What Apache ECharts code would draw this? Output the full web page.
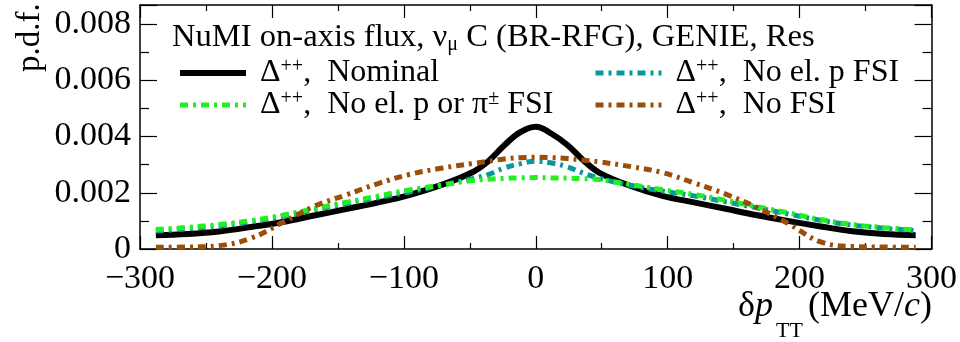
<!DOCTYPE html>
<html>
<head>
<meta charset="utf-8">
<script src="https://cdn.jsdelivr.net/npm/echarts@6/dist/echarts.min.js"></script>
<style>
html,body{margin:0;padding:0;background:#fff;}
#chart{width:960px;height:342px;}
</style>
</head>
<body>
<div id="chart"></div>
<script>
// δp_TT bin centres (MeV/c)
const xValues = [-288,-264,-240,-216,-192,-168,-144,-120,-96,-72,-48,-36,-24,-12,0,12,24,36,48,72,96,120,144,168,192,216,240,264,288];
// Δ++, Nominal
const nominal = [0.00049,0.00053,0.00062,0.00078,0.00096,0.00119,0.00142,0.00165,0.00192,0.00227,0.00273,0.00312,0.00368,0.00415,0.00435,0.00410,0.00370,0.00316,0.00272,0.00224,0.00189,0.00166,0.00143,0.00120,0.00099,0.00080,0.00063,0.00053,0.00049];
// Δ++, No el. p FSI
const noElP = [0.00064,0.00072,0.00082,0.00097,0.00116,0.00139,0.00161,0.00182,0.00203,0.00226,0.00250,0.00265,0.00288,0.00303,0.00312,0.00306,0.00292,0.00270,0.00252,0.00226,0.00206,0.00189,0.00168,0.00146,0.00124,0.00102,0.00085,0.00074,0.00065];
// Δ++, No el. p or π± FSI
const noElPPi = [0.00069,0.00077,0.00087,0.00101,0.00120,0.00143,0.00166,0.00188,0.00210,0.00227,0.00244,0.00248,0.00251,0.00253,0.00254,0.00253,0.00252,0.00250,0.00247,0.00229,0.00211,0.00194,0.00173,0.00150,0.00128,0.00105,0.00087,0.00076,0.00067];
// Δ++, No FSI
const noFSI = [0.00006,0.00007,0.00012,0.00038,0.00094,0.00152,0.00192,0.00232,0.00265,0.00287,0.00304,0.00312,0.00320,0.00325,0.00326,0.00325,0.00322,0.00316,0.00310,0.00293,0.00272,0.00235,0.00195,0.00147,0.00089,0.00025,0.00009,0.00007,0.00006];
const xTicks = [-300,-200,-100,0,100,200,300];
const yTicks = [0,0.002,0.004,0.006,0.008];
const legendLabels = {
  'Nominal':'{g| }{d|Δ}{s|++}{d|,  Nominal}',
  'No el. p FSI':'{g| }{d|Δ}{s|++}{d|,  No el. p FSI}',
  'No el. p or π± FSI':'{g| }{d|Δ}{s|++}{d|,  No el. p or π}{s|±}{d| FSI}',
  'No FSI':'{g| }{d|Δ}{s|++}{d|,  No FSI}'
};

const FONT = '"Liberation Serif", "DejaVu Serif", serif';
const pair = a => xValues.map((x,i)=>[x,a[i]]);

const chart = echarts.init(document.getElementById('chart'), null, {renderer:'canvas'});

const baseAxis = {
  axisLine:{show:true,onZero:false,lineStyle:{color:'#000',width:1.5}},
  splitLine:{show:false}
};
const richLeg = {
  g:{width:9,fontSize:10},
  d:{fontFamily:FONT,fontSize:32,color:'#000',lineHeight:32},
  s:{fontFamily:FONT,fontSize:20,color:'#000',lineHeight:18,verticalAlign:'top'}
};
const legendCommon = {
  orient:'vertical', itemWidth:66, itemHeight:14, itemGap:0, padding:0,
  selectedMode:false, formatter:n=>legendLabels[n],
  textStyle:{rich:richLeg}, itemStyle:{opacity:0},
  lineStyle:{width:'inherit'}
};

const dash = [8,5,3,5];

chart.setOption({
  animation:false,
  backgroundColor:'#fff',
  grid:{left:140,right:28,top:5,bottom:93,containLabel:false},
  xAxis:[
    Object.assign({}, baseAxis, {
      type:'value', min:-300, max:300, interval:100, position:'bottom',
      axisTick:{show:true,inside:true,length:13,lineStyle:{color:'#000',width:1.2}},
      minorTick:{show:true,splitNumber:2,length:6,lineStyle:{color:'#000',width:1.2}},
      axisLabel:{show:true,fontFamily:FONT,fontSize:34,color:'#000',margin:13,
        formatter:v=> xTicks.indexOf(v)>=0 ? String(v).replace('-','\u2212') : ''}
    }),
    Object.assign({}, baseAxis, {
      type:'value', min:-300, max:300, interval:100, position:'top',
      axisTick:{show:true,inside:true,length:13,lineStyle:{color:'#000',width:1.2}},
      minorTick:{show:true,splitNumber:2,length:6,lineStyle:{color:'#000',width:1.2}},
      axisLabel:{show:false}
    })
  ],
  yAxis:[
    Object.assign({}, baseAxis, {
      type:'value', min:0, max:0.00868, interval:0.002, position:'left',
      axisTick:{show:true,inside:true,length:17,lineStyle:{color:'#000',width:1.2}},
      minorTick:{show:true,splitNumber:2,length:9,lineStyle:{color:'#000',width:1.2}},
      axisLabel:{show:true,fontFamily:FONT,fontSize:34,color:'#000',margin:9,
        formatter:v=>{
          const m = yTicks.find(t=>Math.abs(t-v)<1e-9);
          if(m===undefined) return '';
          return m===0 ? '0' : m.toFixed(3);
        }}
    }),
    Object.assign({}, baseAxis, {
      type:'value', min:0, max:0.00868, interval:0.002, position:'right',
      axisTick:{show:true,inside:true,length:17,lineStyle:{color:'#000',width:1.2}},
      minorTick:{show:true,splitNumber:2,length:9,lineStyle:{color:'#000',width:1.2}},
      axisLabel:{show:false}
    })
  ],
  legend:[
    Object.assign({data:['Nominal','No el. p or π± FSI'], left:177, top:57}, legendCommon),
    Object.assign({data:['No el. p FSI','No FSI'], left:593, top:57}, legendCommon)
  ],
  series:[
    {name:'Nominal', type:'line', data:pair(nominal), smooth:0.4, symbol:'none',
     lineStyle:{color:'#000',width:6}, itemStyle:{color:'#000'}, z:2},
    {name:'No el. p FSI', type:'line', data:pair(noElP), smooth:0.4, symbol:'none',
     lineStyle:{color:'#059999',width:5,type:dash}, itemStyle:{color:'#059999'}, z:3},
    {name:'No el. p or π± FSI', type:'line', data:pair(noElPPi), smooth:0.4, symbol:'none',
     lineStyle:{color:'#22ee22',width:5,type:dash}, itemStyle:{color:'#22ee22'}, z:4},
    {name:'No FSI', type:'line', data:pair(noFSI), smooth:0.4, symbol:'none',
     lineStyle:{color:'#9b4e07',width:5,type:dash}, itemStyle:{color:'#9b4e07'}, z:5}
  ],
  graphic:[
    {type:'text', left:172, top:21, z:100, style:{
      text:'{a|NuMI on-axis flux, ν}{b|μ}{a| C (BR-RFG), GENIE, Res}',
      rich:{a:{fontFamily:FONT,fontSize:32.6,color:'#000',lineHeight:34},
            b:{fontFamily:FONT,fontSize:20,color:'#000',lineHeight:14,verticalAlign:'bottom'}}
    }},
    {type:'text', rotation:Math.PI/2, x:14, y:72, z:100, style:{
      text:'p.d.f.', fontFamily:FONT, fontSize:33, fill:'#000', align:'left', verticalAlign:'top'
    }},
    {type:'text', x:738, y:325, z:100, style:{
      text:'{a|δ}{i|p}', rich:{a:{fontFamily:FONT,fontSize:36,color:'#000'},i:{fontFamily:FONT,fontSize:36,fontStyle:'italic',color:'#000'}},
      align:'left', verticalAlign:'bottom'
    }},
    {type:'text', x:776, y:342, z:100, style:{
      text:'TT', fontFamily:FONT, fontSize:22, fill:'#000', align:'left', verticalAlign:'bottom'
    }},
    {type:'text', x:932, y:325, z:100, style:{
      text:'{a|(MeV/}{i|c}{a|)}', rich:{a:{fontFamily:FONT,fontSize:36,color:'#000'},i:{fontFamily:FONT,fontSize:36,fontStyle:'italic',color:'#000'}},
      align:'right', verticalAlign:'bottom'
    }}
  ]
});
</script>
</body>
</html>
